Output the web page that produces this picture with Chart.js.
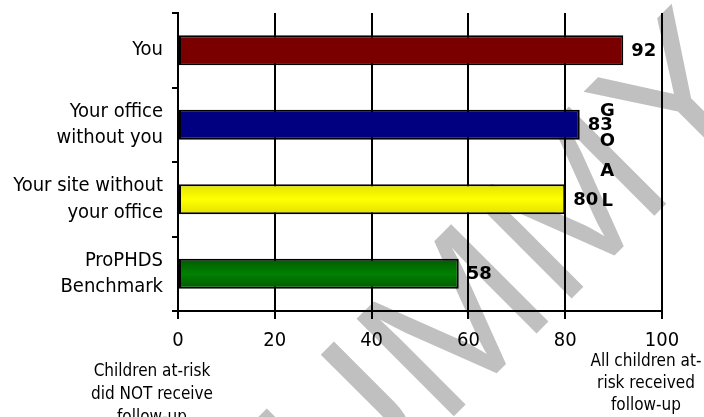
<!DOCTYPE html>
<html>
<head>
<meta charset="utf-8">
<script src="https://cdn.jsdelivr.net/npm/chart.js@4/dist/chart.umd.min.js"></script>
<style>
  html, body { margin: 0; padding: 0; background: #fff; }
  #wrap { width: 704px; height: 417px; position: relative; }
</style>
</head>
<body>
<div id="wrap"><canvas id="followUp"></canvas></div>
<script>
const categories = [
  "You",
  ["Your office", "without you"],
  ["Your site without", "your office"],
  ["ProPHDS", "Benchmark"]
];
const values = [92, 83, 80, 58];
const barColors = ["#7a0000", "#000080", "#ffff00", "#008000"];
const barEdgeShade = [null, null, "#e2e200", "#005c00"];
const xTicks = [0, 20, 40, 60, 80, 100];
const leftNote = ["Children at-risk", "did NOT receive", "follow-up"];
const rightNote = ["All children at-", "risk received", "follow-up"];
const goalLetters = ["G", "O", "A", "L"];
const watermark = "DUMMY";

const FONT = "'DejaVu Sans Condensed', 'DejaVu Sans', sans-serif";
const BOLD = "'DejaVu Sans', sans-serif";

// yellow and green bars get a soft vertical shading
function barFill(ctx) {
  const chart = ctx.chart;
  const i = ctx.dataIndex;
  const base = barColors[i];
  const y = chart.scales.y;
  if (!chart.chartArea || !y || !barEdgeShade[i]) return base;
  const mid = y.getPixelForValue(i);
  const half = (y.getPixelForValue(1) - y.getPixelForValue(0)) * 0.4 / 2;
  const g = chart.ctx.createLinearGradient(0, mid - half, 0, mid + half);
  g.addColorStop(0, barEdgeShade[i]);
  g.addColorStop(0.5, base);
  g.addColorStop(1, barEdgeShade[i]);
  return g;
}

const watermarkPlugin = {
  id: "watermark",
  beforeDraw(chart) {
    const c = chart.ctx;
    c.save();
    c.translate(505, 365);
    c.rotate(-45 * Math.PI / 180);
    c.font = "200px 'Liberation Sans', sans-serif";
    c.fillStyle = "#c0c0c0";
    c.textAlign = "center";
    c.textBaseline = "alphabetic";
    c.fillText(watermark, 0, 0);
    c.restore();
  }
};

const notesPlugin = {
  id: "notes",
  afterDatasetsDraw(chart) {
    const c = chart.ctx;
    const x = chart.scales.x;
    c.save();
    // value labels next to each bar
    c.font = "bold 18px " + BOLD;
    c.fillStyle = "#000";
    c.textAlign = "left";
    c.textBaseline = "middle";
    chart.getDatasetMeta(0).data.forEach((bar, i) => {
      c.fillText(String(values[i]), bar.x + 8, bar.y + 1);
    });

    // vertical GOAL marker
    c.textAlign = "center";
    const gx = x.getPixelForValue(88.7);
    goalLetters.forEach((ch, i) => {
      c.fillText(ch, gx, 111 + i * 30);
    });

    // explanations under both ends of the axis
    c.font = "17px " + FONT;
    leftNote.forEach((t, i) => c.fillText(t, 152, 372 + i * 23));
    rightNote.forEach((t, i) => c.fillText(t, 646, 362 + i * 22));
    c.restore();
  }
};

new Chart(document.getElementById("followUp"), {
  type: "bar",
  data: {
    labels: categories,
    datasets: [{
      data: values,
      backgroundColor: barFill,
      borderColor: "#000",
      borderWidth: 2,
      borderSkipped: false,
      barPercentage: 0.4,
      categoryPercentage: 1
    }]
  },
  options: {
    indexAxis: "y",
    responsive: true,
    maintainAspectRatio: false,
    animation: false,
    layout: { padding: { top: 13, right: 42, left: 0, bottom: 0 } },
    plugins: {
      legend: { display: false },
      tooltip: { enabled: false }
    },
    scales: {
      x: {
        min: 0,
        max: 100,
        afterBuildTicks(scale) {
          scale.ticks = xTicks.map(v => ({ value: v }));
        },
        afterFit(scale) {
          scale.height = 106;
          scale.paddingLeft = 0;
          scale.paddingRight = 0;
        },
        grid: { color: "#000", lineWidth: 2, tickLength: 8 },
        border: { color: "#000", width: 2 },
        ticks: {
          color: "#000",
          padding: 10,
          font: { family: FONT, size: 20 }
        }
      },
      y: {
        afterFit(scale) {
          scale.width = 178;
          scale.paddingTop = 0;
          scale.paddingBottom = 0;
        },
        grid: { drawOnChartArea: false, color: "#000", lineWidth: 2, tickLength: 6, offset: true },
        border: { color: "#000", width: 2 },
        ticks: {
          color: "#000",
          padding: 9,
          font: { family: FONT, size: 20, lineHeight: 1.32 }
        }
      }
    }
  },
  plugins: [watermarkPlugin, notesPlugin]
});
</script>
</body>
</html>
